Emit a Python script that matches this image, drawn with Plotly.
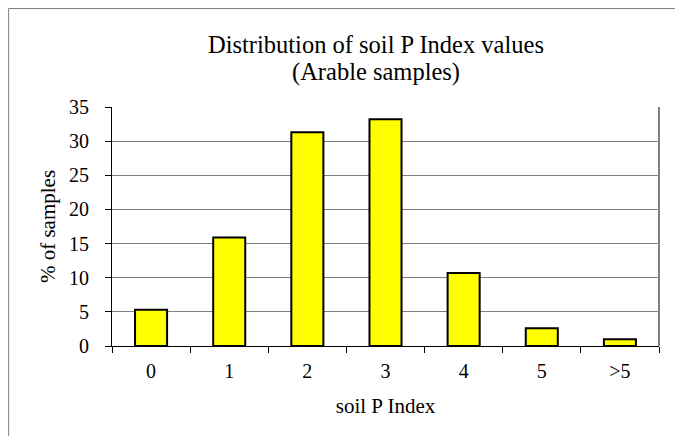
import plotly.graph_objects as go

# Valeurs (% d'échantillons par indice P)
categories = ['0', '1', '2', '3', '4', '5', '>5']
pourcentages = [5.3, 15.9, 31.3, 33.2, 10.7, 2.6, 1.0]
y_ticks = [0, 5, 10, 15, 20, 25, 30, 35]
titre = ['Distribution of soil P Index values', '(Arable samples)']

FONT = 'Liberation Serif, Times New Roman, serif'

fig = go.Figure()

fig.add_trace(go.Bar(
    x=categories,
    y=pourcentages,
    marker=dict(color='#FFFF00', line=dict(color='black', width=2)),
    width=0.41,
))

# la page ajoute une marge de 8px : on décale la zone de tracé en conséquence
fig.update_layout(
    width=683,
    height=436,
    margin=dict(l=104, r=32, t=99, b=98),
    paper_bgcolor='white',
    plot_bgcolor='white',
    showlegend=False,
    font=dict(family=FONT, size=20, color='black'),
)

# titre sur deux lignes, interligne serré comme dans Excel
for texte, ypos in zip(titre, [1.262, 1.145]):
    fig.add_annotation(
        text=texte, xref='paper', yref='paper',
        x=0.483, y=ypos, xanchor='center', yanchor='middle',
        showarrow=False, font=dict(family=FONT, size=24.5, color='black'),
    )

fig.update_xaxes(
    type='category',
    tickson='boundaries',
    ticks='outside', ticklen=6, tickcolor='black', tickwidth=1,
    showline=True, linecolor='black', linewidth=1,
    showgrid=False,
    ticklabelstandoff=7,
    title=dict(text='soil P Index', font=dict(family=FONT, size=21), standoff=17),
)

fig.update_yaxes(
    range=[0, 35],
    tickvals=y_ticks,
    ticks='outside', ticklen=6, tickcolor='black', tickwidth=1,
    showline=True, linecolor='black', linewidth=1,
    showgrid=True, gridcolor='#808080', gridwidth=1,
    zeroline=False,
    ticklabelstandoff=12,
    title=dict(text='% of samples', font=dict(family=FONT, size=21), standoff=7),
)

# bordure droite de la zone de tracé (grise) et cadre du graphique
fig.add_shape(type='line', xref='paper', yref='paper', x0=1, x1=1, y0=0, y1=1,
              line=dict(color='#808080', width=2))
fig.add_shape(type='line', xref='paper', yref='paper', x0=-0.189, x1=1.1, y0=1.412, y1=1.412,
              line=dict(color='#808080', width=1))
fig.add_shape(type='line', xref='paper', yref='paper', x0=-0.189, x1=-0.189, y0=-0.45, y1=1.412,
              line=dict(color='#808080', width=1))

fig.write_html('out.html')
